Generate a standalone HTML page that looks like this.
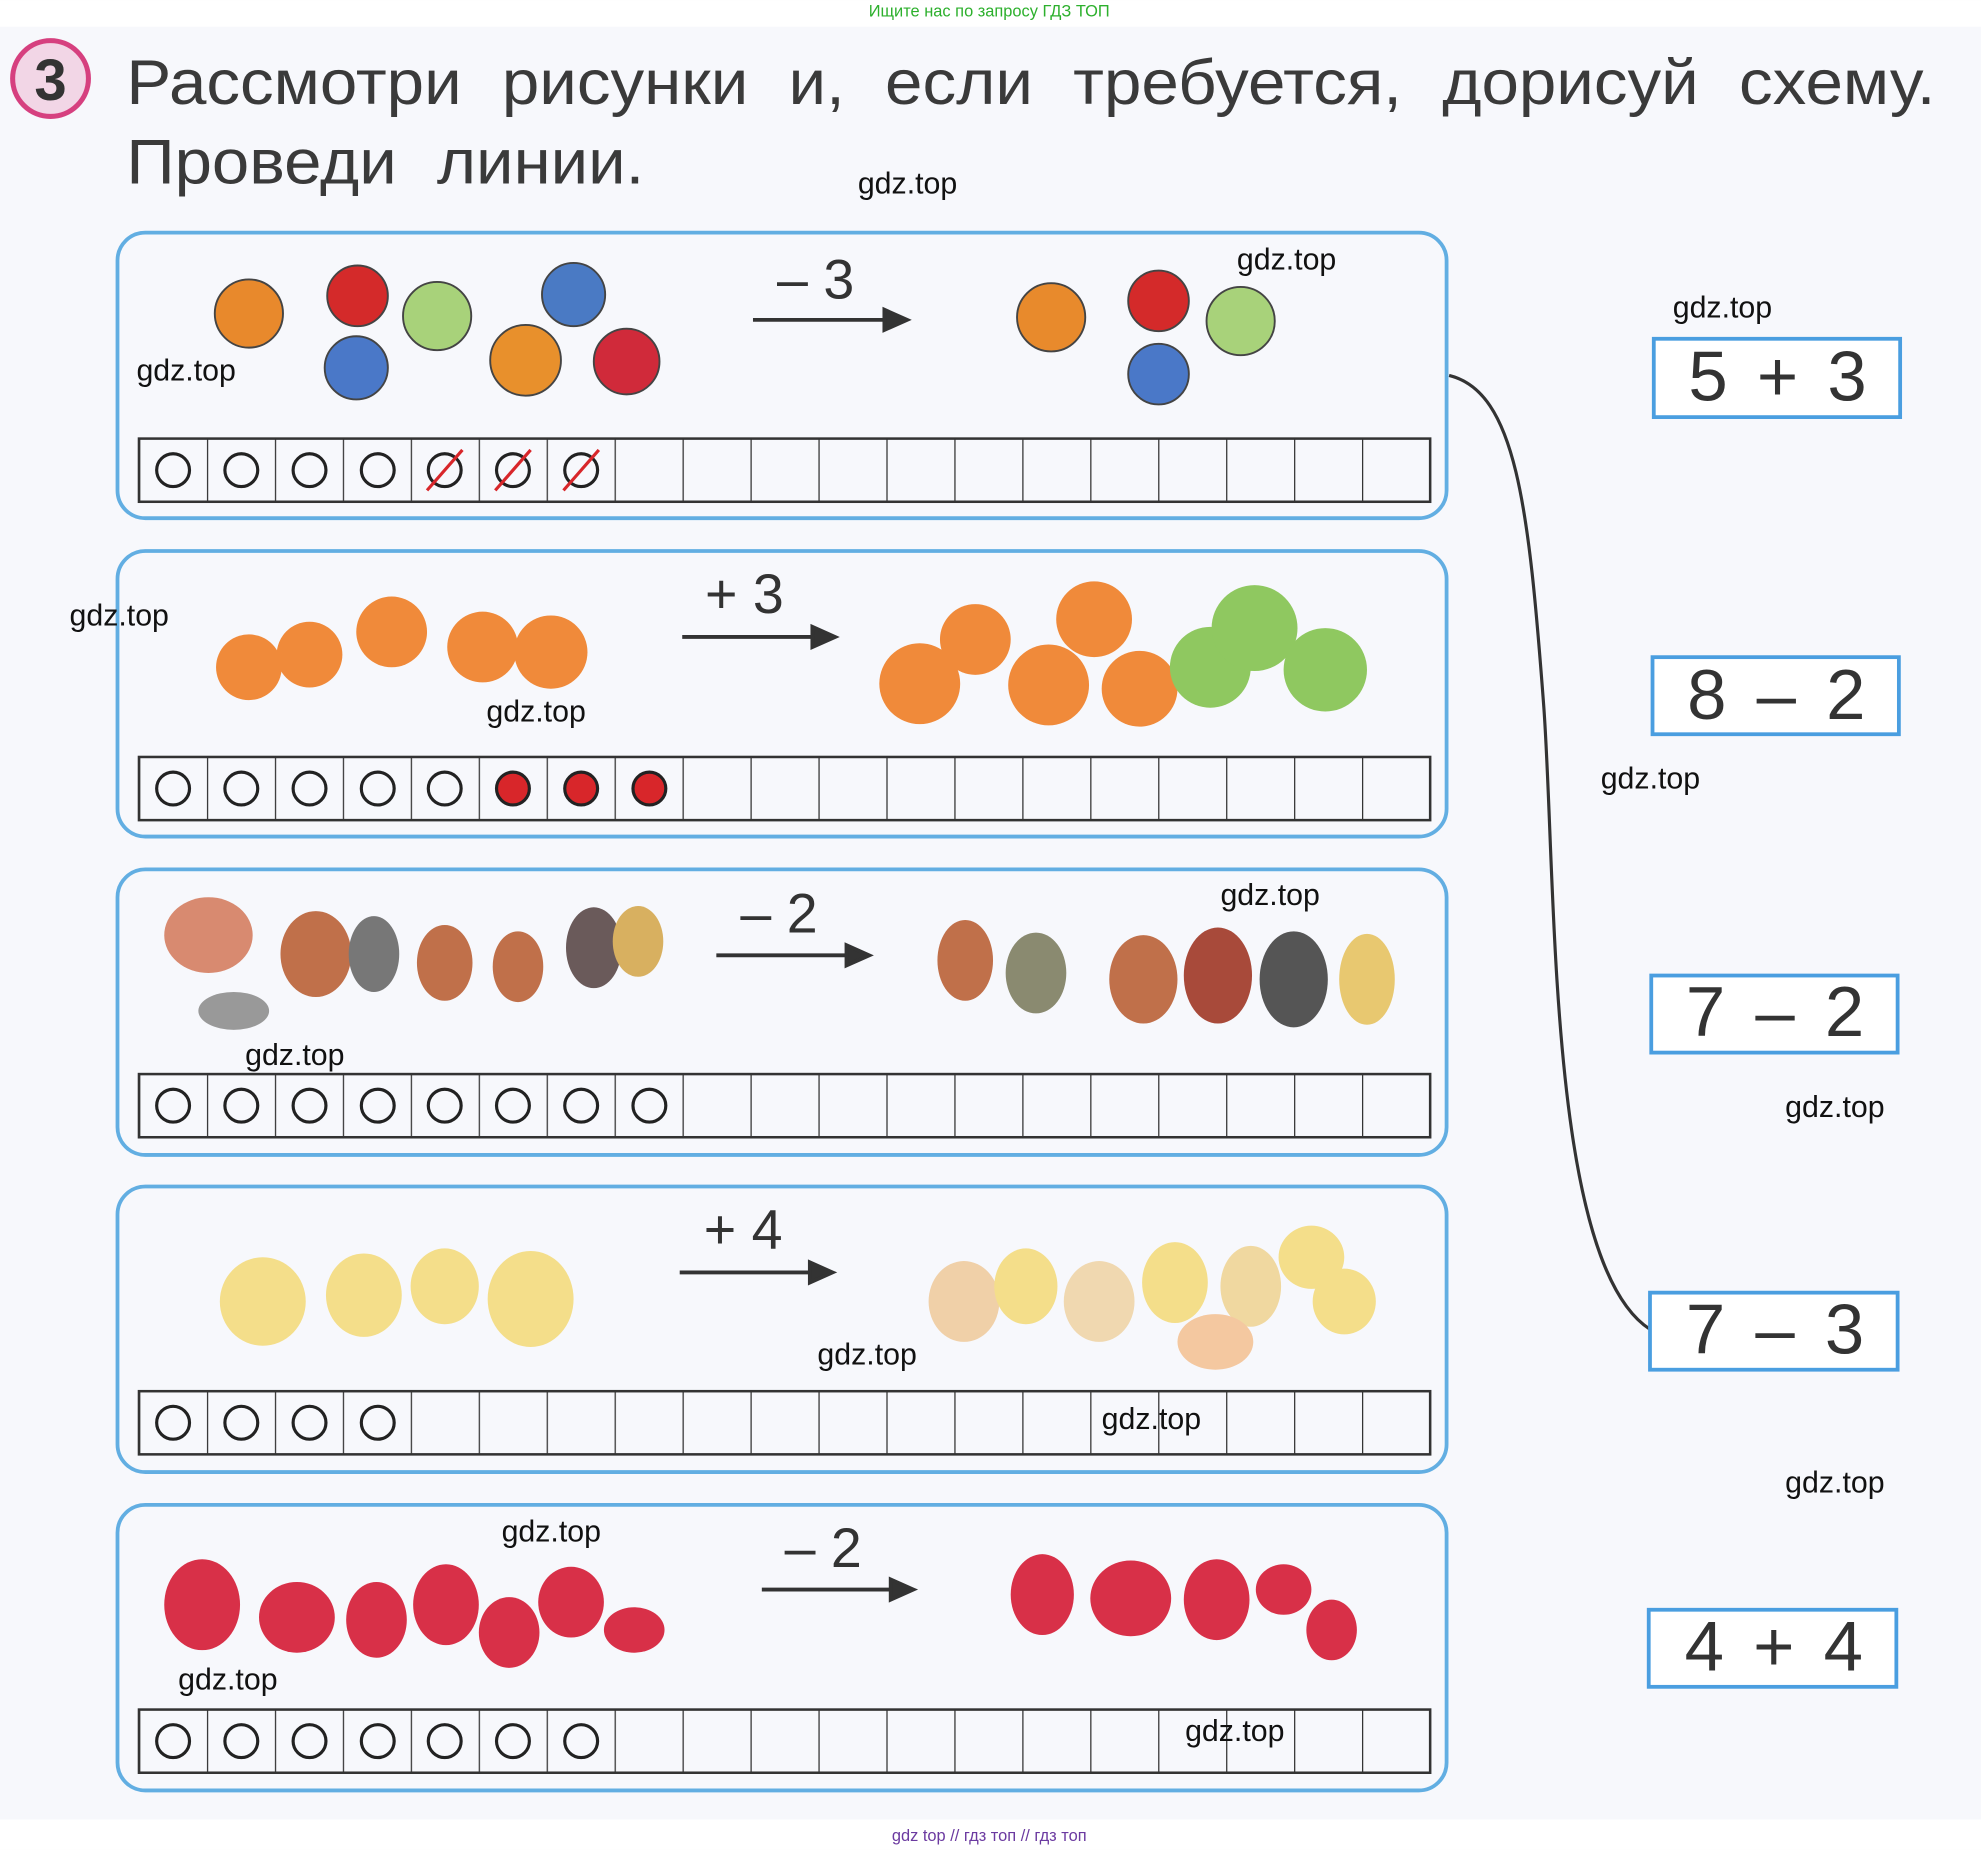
<!DOCTYPE html>
<html><head><meta charset="utf-8"><style>
html,body{margin:0;padding:0;background:#fff;}
svg{display:block;}
text{font-family:"Liberation Sans",sans-serif;}
</style></head><body>
<svg width="1981" height="1850" viewBox="0 0 1568 1464" xmlns="http://www.w3.org/2000/svg">
<defs>
<pattern id="cells" patternUnits="userSpaceOnUse" x="110" y="0" width="53.78" height="2000">
<line x1="0" y1="0" x2="0" y2="2000" stroke="#333" stroke-width="2"/>
</pattern>
</defs>
<rect x="0" y="0" width="1568" height="1464" fill="#f7f8fc"/>
<rect x="0" y="0" width="1568" height="21" fill="#ffffff"/>
<rect x="0" y="1440" width="1568" height="24" fill="#ffffff"/>
<text x="783" y="13" font-size="13" fill="#2db02d" text-anchor="middle">Ищите нас по запросу ГДЗ ТОП</text>
<text x="783" y="1457" font-size="13" fill="#6b3aa0" text-anchor="middle">gdz top  //  гдз топ  //  гдз топ</text>

<circle cx="40" cy="62" r="30" fill="#f2d6e6" stroke="#d6407f" stroke-width="4"/>
<text x="40" y="79" font-size="46" font-weight="bold" fill="#333" text-anchor="middle">3</text>
<text x="100" y="82" font-size="50" fill="#3a3a3a" word-spacing="16" textLength="1432" lengthAdjust="spacingAndGlyphs">Рассмотри рисунки и, если требуется, дорисуй схему.</text>
<text x="100" y="145" font-size="50" fill="#3a3a3a" word-spacing="16" textLength="410" lengthAdjust="spacingAndGlyphs">Проведи линии.</text>

<g fill="none" stroke="#62aee2" stroke-width="3">
<rect x="93" y="184" width="1052" height="226" rx="22"/>
<rect x="93" y="436" width="1052" height="226" rx="22"/>
<rect x="93" y="688" width="1052" height="226" rx="22"/>
<rect x="93" y="939" width="1052" height="226" rx="22"/>
<rect x="93" y="1191" width="1052" height="226" rx="22"/>
</g>
<g stroke="#333" stroke-width="2">
<rect x="110" y="347" width="1022" height="50" fill="url(#cells)"/>
<rect x="110" y="599" width="1022" height="50" fill="url(#cells)"/>
<rect x="110" y="850" width="1022" height="50" fill="url(#cells)"/>
<rect x="110" y="1101" width="1022" height="50" fill="url(#cells)"/>
<rect x="110" y="1353" width="1022" height="50" fill="url(#cells)"/>
</g>
<g fill="none" stroke="#222" stroke-width="2.5">
<circle cx="137" cy="372" r="13"/><circle cx="191" cy="372" r="13"/><circle cx="245" cy="372" r="13"/><circle cx="299" cy="372" r="13"/>
<circle cx="352" cy="372" r="13"/><circle cx="406" cy="372" r="13"/><circle cx="460" cy="372" r="13"/>
<circle cx="137" cy="624" r="13"/><circle cx="191" cy="624" r="13"/><circle cx="245" cy="624" r="13"/><circle cx="299" cy="624" r="13"/><circle cx="352" cy="624" r="13"/>
<circle cx="137" cy="875" r="13"/><circle cx="191" cy="875" r="13"/><circle cx="245" cy="875" r="13"/><circle cx="299" cy="875" r="13"/><circle cx="352" cy="875" r="13"/><circle cx="406" cy="875" r="13"/><circle cx="460" cy="875" r="13"/><circle cx="514" cy="875" r="13"/>
<circle cx="137" cy="1126" r="13"/><circle cx="191" cy="1126" r="13"/><circle cx="245" cy="1126" r="13"/><circle cx="299" cy="1126" r="13"/>
<circle cx="137" cy="1378" r="13"/><circle cx="191" cy="1378" r="13"/><circle cx="245" cy="1378" r="13"/><circle cx="299" cy="1378" r="13"/><circle cx="352" cy="1378" r="13"/><circle cx="406" cy="1378" r="13"/><circle cx="460" cy="1378" r="13"/>
</g>
<g stroke="#d8262a" stroke-width="2.5">
<line x1="338" y1="388" x2="366" y2="356"/><line x1="392" y1="388" x2="420" y2="356"/><line x1="446" y1="388" x2="474" y2="356"/>
</g>
<g fill="#d8262a" stroke="#222" stroke-width="2.5">
<circle cx="406" cy="624" r="13"/><circle cx="460" cy="624" r="13"/><circle cx="514" cy="624" r="13"/>
</g>

<g font-size="44" fill="#333">
<text x="615" y="236">–  3</text>
<text x="558" y="485">+  3</text>
<text x="586" y="738">–  2</text>
<text x="557" y="988">+  4</text>
<text x="621" y="1240">–  2</text>
</g>
<g stroke="#333" stroke-width="3" fill="#333">
<line x1="596" y1="253" x2="705" y2="253"/><path d="M718 253 L700 245 L700 261Z"/>
<line x1="540" y1="504" x2="648" y2="504"/><path d="M661 504 L643 496 L643 512Z"/>
<line x1="567" y1="756" x2="675" y2="756"/><path d="M688 756 L670 748 L670 764Z"/>
<line x1="538" y1="1007" x2="646" y2="1007"/><path d="M659 1007 L641 999 L641 1015Z"/>
<line x1="603" y1="1258" x2="710" y2="1258"/><path d="M723 1258 L705 1250 L705 1266Z"/>
</g>

<g stroke="#444" stroke-width="1.5">
<circle cx="197" cy="248" r="27" fill="#e8892c"/><circle cx="283" cy="234" r="24" fill="#d42a2a"/>
<circle cx="346" cy="250" r="27" fill="#a8d27a"/><circle cx="282" cy="291" r="25" fill="#4a78c8"/>
<circle cx="454" cy="233" r="25" fill="#4a7ac4"/><circle cx="416" cy="285" r="28" fill="#e8902c"/>
<circle cx="496" cy="286" r="26" fill="#d02a3a"/>
<circle cx="832" cy="251" r="27" fill="#e88a2c"/><circle cx="917" cy="238" r="24" fill="#d42a2a"/>
<circle cx="982" cy="254" r="27" fill="#a8d27a"/><circle cx="917" cy="296" r="24" fill="#4a78c8"/>
</g>
<g fill="#f08a3a">
<circle cx="197" cy="528" r="26"/><circle cx="245" cy="518" r="26"/><circle cx="310" cy="500" r="28"/>
<circle cx="382" cy="512" r="28"/><circle cx="436" cy="516" r="29"/>
<circle cx="728" cy="541" r="32"/><circle cx="772" cy="506" r="28"/><circle cx="830" cy="542" r="32"/>
<circle cx="866" cy="490" r="30"/><circle cx="902" cy="545" r="30"/>
</g>
<g fill="#8fc860"><circle cx="958" cy="528" r="32"/><circle cx="993" cy="497" r="34"/><circle cx="1049" cy="530" r="33"/></g>
<g fill="#c0704a">
<ellipse cx="165" cy="740" rx="35" ry="30" fill="#d88a70"/><ellipse cx="250" cy="755" rx="28" ry="34"/><ellipse cx="296" cy="755" rx="20" ry="30" fill="#777"/>
<ellipse cx="352" cy="762" rx="22" ry="30"/><ellipse cx="410" cy="765" rx="20" ry="28"/><ellipse cx="470" cy="750" rx="22" ry="32" fill="#6a5a5a"/>
<ellipse cx="505" cy="745" rx="20" ry="28" fill="#d8b060"/><ellipse cx="185" cy="800" rx="28" ry="15" fill="#999"/>
<ellipse cx="764" cy="760" rx="22" ry="32"/><ellipse cx="820" cy="770" rx="24" ry="32" fill="#8a8a70"/>
<ellipse cx="905" cy="775" rx="27" ry="35"/><ellipse cx="964" cy="772" rx="27" ry="38" fill="#a84a3a"/>
<ellipse cx="1024" cy="775" rx="27" ry="38" fill="#555"/><ellipse cx="1082" cy="775" rx="22" ry="36" fill="#e8c870"/>
</g>
<g fill="#f4de8a">
<ellipse cx="208" cy="1030" rx="34" ry="35"/><ellipse cx="288" cy="1025" rx="30" ry="33"/><ellipse cx="352" cy="1018" rx="27" ry="30"/>
<ellipse cx="420" cy="1028" rx="34" ry="38"/>
<ellipse cx="763" cy="1030" rx="28" ry="32" fill="#f0d0a8"/><ellipse cx="812" cy="1018" rx="25" ry="30"/><ellipse cx="870" cy="1030" rx="28" ry="32" fill="#f0d8b0"/>
<ellipse cx="930" cy="1015" rx="26" ry="32"/><ellipse cx="990" cy="1018" rx="24" ry="32" fill="#f0d8a0"/><ellipse cx="1038" cy="995" rx="26" ry="25"/>
<ellipse cx="1064" cy="1030" rx="25" ry="26"/><ellipse cx="962" cy="1062" rx="30" ry="22" fill="#f4c8a0"/>
</g>
<g fill="#d83048">
<ellipse cx="160" cy="1270" rx="30" ry="36"/><ellipse cx="235" cy="1280" rx="30" ry="28"/><ellipse cx="298" cy="1282" rx="24" ry="30"/>
<ellipse cx="353" cy="1270" rx="26" ry="32"/><ellipse cx="403" cy="1292" rx="24" ry="28"/><ellipse cx="452" cy="1268" rx="26" ry="28"/>
<ellipse cx="502" cy="1290" rx="24" ry="18"/>
<ellipse cx="825" cy="1262" rx="25" ry="32"/><ellipse cx="895" cy="1265" rx="32" ry="30"/><ellipse cx="963" cy="1266" rx="26" ry="32"/>
<ellipse cx="1016" cy="1258" rx="22" ry="20"/><ellipse cx="1054" cy="1290" rx="20" ry="24"/>
</g>

<path d="M1147 297 C1200 310 1210 400 1222 560 C1232 700 1225 1000 1306 1052" fill="none" stroke="#333" stroke-width="2.5"/>

<g fill="#fff" stroke="#4a9ee0" stroke-width="3">
<rect x="1309" y="268" width="195" height="62"/>
<rect x="1308" y="520" width="195" height="61"/>
<rect x="1307" y="772" width="195" height="61"/>
<rect x="1306" y="1023" width="196" height="61"/>
<rect x="1305" y="1274" width="196" height="61"/>
</g>
<g font-size="56" fill="#333" text-anchor="middle">
<text x="1352" y="317">5</text><text x="1407" y="317">+</text><text x="1462" y="317">3</text>
<text x="1351" y="569">8</text><text x="1406" y="569">–</text><text x="1461" y="569">2</text>
<text x="1350" y="820">7</text><text x="1405" y="820">–</text><text x="1460" y="820">2</text>
<text x="1350" y="1071">7</text><text x="1405" y="1071">–</text><text x="1460" y="1071">3</text>
<text x="1349" y="1322">4</text><text x="1404" y="1322">+</text><text x="1459" y="1322">4</text>
</g>

<g font-size="24" fill="#111">
<text x="679" y="153">gdz.top</text>
<text x="979" y="213">gdz.top</text>
<text x="108" y="301">gdz.top</text>
<text x="1324" y="251">gdz.top</text>
<text x="55" y="495">gdz.top</text>
<text x="385" y="571">gdz.top</text>
<text x="1267" y="624">gdz.top</text>
<text x="966" y="716">gdz.top</text>
<text x="194" y="843">gdz.top</text>
<text x="1413" y="884">gdz.top</text>
<text x="647" y="1080">gdz.top</text>
<text x="872" y="1131">gdz.top</text>
<text x="1413" y="1181">gdz.top</text>
<text x="397" y="1220">gdz.top</text>
<text x="141" y="1337">gdz.top</text>
<text x="938" y="1378">gdz.top</text>
</g>
</svg>
</body></html>
